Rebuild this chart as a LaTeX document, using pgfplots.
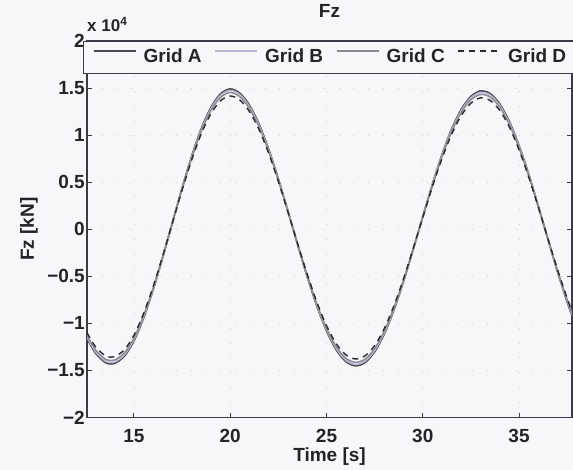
\documentclass[border=0pt]{standalone}
\usepackage{fontspec}
\setmainfont{Liberation Sans}
\usepackage{pgfplots}
\usepackage{pgfplotstable}
\pgfplotsset{compat=1.18}
\usetikzlibrary{backgrounds}
\definecolor{bgc}{HTML}{F7F7F9}
\definecolor{axc}{HTML}{3A3A48}
\definecolor{ca}{HTML}{4A4A56}
\definecolor{cb}{HTML}{B8B8D0}
\definecolor{cc}{HTML}{8A8A94}
\definecolor{cd}{HTML}{2A2A30}
\newcommand\ff{\fontsize{19bp}{23bp}\selectfont\bfseries}

\pgfplotstableread{
t A B C D
12.56 -11570 -11450 -11280 -10990
13.0 -13140 -13010 -12810 -12480
13.5 -14140 -14000 -13790 -13430
13.8 -14300 -14160 -13940 -13590
14.0 -14250 -14110 -13890 -13540
14.5 -13480 -13350 -13140 -12810
15.0 -11840 -11720 -11540 -11250
15.5 -9410 -9320 -9170 -8940
16.0 -6380 -6320 -6220 -6060
16.5 -2930 -2900 -2860 -2780
17.0 740 730 720 700
17.5 4380 4340 4270 4160
18.0 7770 7690 7580 7380
18.5 10710 10600 10440 10170
19.0 12940 12810 12620 12290
19.5 14380 14240 14020 13660
20.0 14900 14750 14530 14160
20.5 14440 14300 14080 13720
21.0 13160 13030 12830 12500
21.5 11130 11020 10850 10570
22.0 8460 8380 8250 8040
22.5 5330 5280 5200 5060
23.0 1900 1880 1850 1810
23.5 -1620 -1600 -1580 -1540
24.0 -5040 -4990 -4910 -4790
24.5 -8150 -8070 -7950 -7740
25.0 -10780 -10670 -10510 -10240
25.5 -12780 -12650 -12460 -12140
26.0 -14040 -13900 -13690 -13340
26.5 -14500 -14360 -14140 -13780
27.0 -14160 -14020 -13810 -13450
27.5 -13010 -12880 -12680 -12360
28.0 -11110 -11000 -10830 -10550
28.5 -8570 -8480 -8360 -8140
29.0 -5530 -5470 -5390 -5250
29.5 -2160 -2140 -2110 -2050
30.0 1330 1320 1300 1260
30.5 4760 4710 4640 4520
31.0 7920 7840 7720 7520
31.5 10630 10520 10360 10100
32.0 12730 12600 12410 12090
32.5 14110 13970 13760 13400
33.0 14690 14540 14320 13960
33.5 14400 14260 14040 13680
34.0 13290 13160 12960 12630
34.5 11410 11300 11120 10840
35.0 8870 8780 8650 8430
35.5 5840 5780 5690 5550
36.0 2460 2440 2400 2340
36.5 -1060 -1050 -1030 -1010
37.0 -4520 -4470 -4410 -4290
37.5 -7720 -7640 -7530 -7330
37.75 -9170 -9080 -8940 -8710
}\fzdata

\begin{document}
\begin{tikzpicture}
\begin{axis}[name=ax, scale only axis, width=485bp, height=376.5bp,
  xmin=12.56, xmax=37.75, ymin=-20000, ymax=20000,
  xtick={15,20,25,30,35}, xticklabels={15,20,25,30,35},
  ytick={-20000,-15000,...,20000},
  yticklabels={−2,−1.5,−1,−0.5,0,0.5,1,1.5,2},
  scaled y ticks=false,
  tick align=inside, major tick length=5bp,
  axis line style={axc, line width=1.2bp},
  every tick/.style={axc, line width=1bp},
  grid=major, grid style={gray!35, line width=0.6bp, dash pattern=on 0.8bp off 14bp},
  tick label style={font=\ff, text=axc!60!black},
  xticklabel style={anchor=base, yshift=-24.5bp, inner sep=0pt},
  yticklabel style={anchor=east, inner sep=0pt, xshift=-2bp},
  title={Fz}, title style={font=\ff, text=axc!60!black, at={(axis description cs:0.5,1)}, anchor=base, yshift=18bp, inner sep=0pt},
  xlabel={Time [s]}, xlabel style={font=\ff, text=axc!60!black, at={(axis description cs:0.5,0)}, anchor=base, yshift=-43.5bp, inner sep=0pt},
  ylabel={Fz [kN]}, ylabel style={font=\ff, text=axc!60!black, at={(axis description cs:-0.101,0.5)}, anchor=south, inner sep=0pt},
  legend style={at={(0.5,1)}, anchor=north, legend columns=4, draw=axc, line width=1.2bp, fill=bgc,
    inner xsep=9bp, inner ysep=7bp, font=\ff, text=axc!60!black,
    nodes={inner sep=0pt, text height=14bp, text depth=4bp},
    /tikz/every odd column/.append style={column sep=7bp},
    /tikz/every even column/.append style={column sep=13bp}},
  legend image code/.code={\draw[#1] (0bp,6.5bp) -- (42bp,6.5bp);},
]
\addplot[ca, line width=1.8bp, smooth] table[x=t,y=A]{\fzdata};
\addlegendentry{Grid A}
\addplot[cb, line width=1.5bp, smooth] table[x=t,y=B]{\fzdata};
\addlegendentry{Grid B}
\addplot[cc, line width=1.5bp, smooth] table[x=t,y=C]{\fzdata};
\addlegendentry{Grid C}
\addplot[cd, line width=1.4bp, dash pattern=on 6bp off 5bp, smooth] table[x=t,y=D]{\fzdata};
\addlegendentry{Grid D}
\end{axis}
\node[font=\fontsize{17bp}{20bp}\selectfont\bfseries, text=axc!60!black, anchor=base west, inner sep=0pt] at ([yshift=9bp]ax.north west) {x 10\textsuperscript{4}};
\pgfresetboundingbox
\begin{scope}[on background layer]
\fill[bgc] (ax.south west) ++(-87bp,-52.5bp) rectangle ++(573bp,470bp);
\end{scope}
\useasboundingbox (ax.south west) ++(-87bp,-52.5bp) rectangle ++(573bp,470bp);
\end{tikzpicture}
\end{document}
